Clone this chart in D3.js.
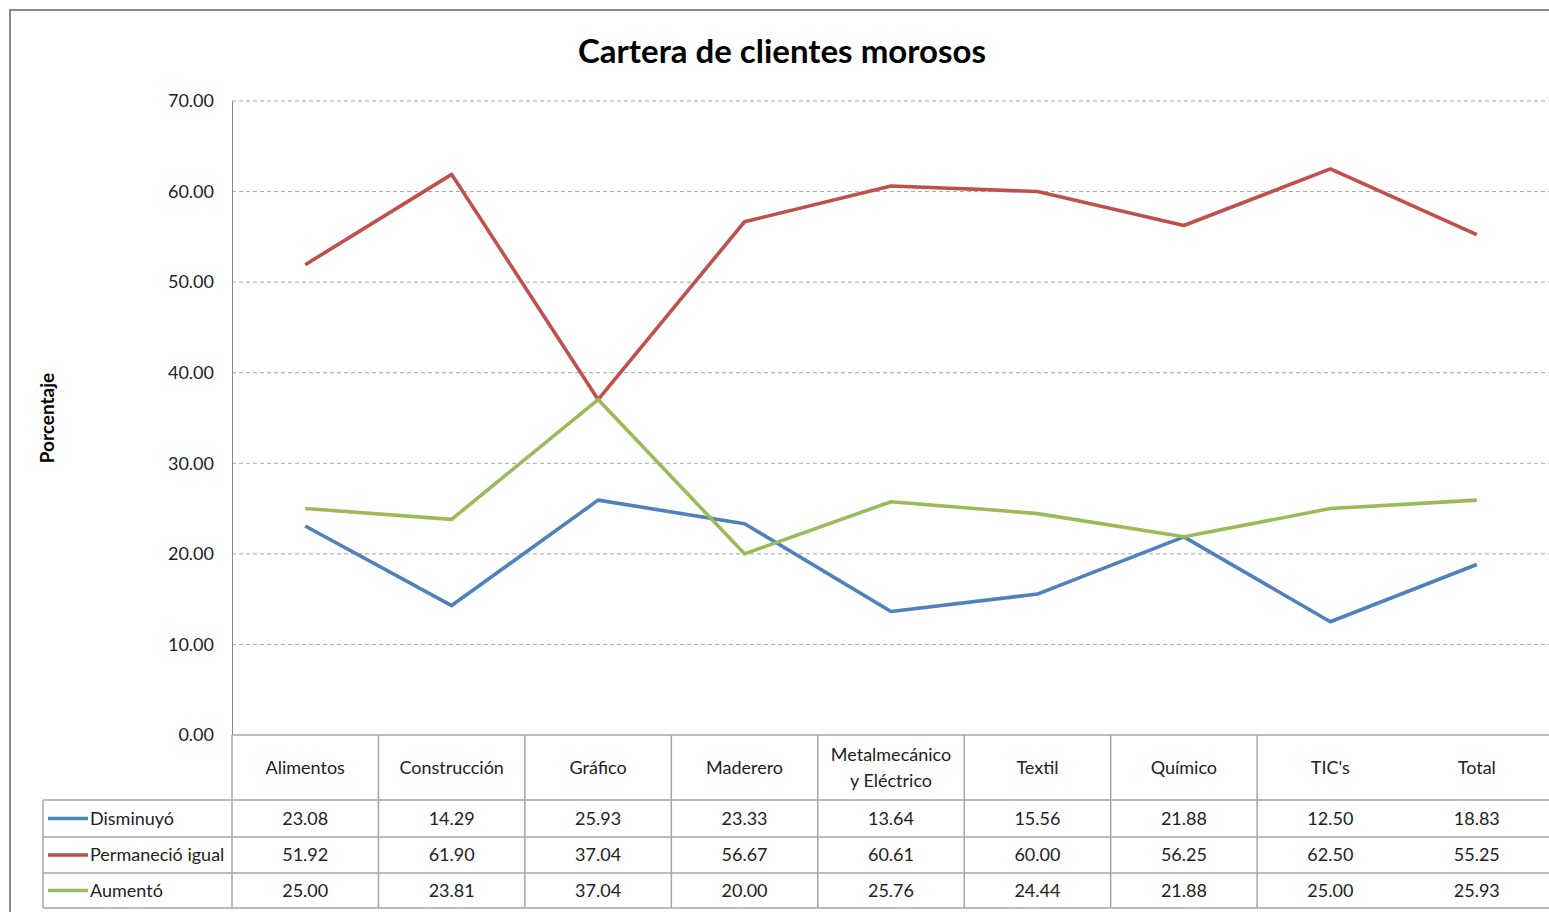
<!DOCTYPE html>
<html>
<head>
<meta charset="utf-8">
<script src="https://cdn.jsdelivr.net/npm/d3@7"></script>
<style>
  html, body { margin: 0; padding: 0; background: #fff; }
  svg { display: block; font-family: Lato, "Open Sans", sans-serif; }
</style>
</head>
<body>
<div id="chart"></div>
<script>
const categories = [
  "Alimentos", "Construcción", "Gráfico", "Maderero",
  "Metalmecánico\ny Eléctrico", "Textil", "Químico", "TIC's", "Total",
];
const disminuyo = [23.08, 14.29, 25.93, 23.33, 13.64, 15.56, 21.88, 12.5, 18.83];
const permanecio = [51.92, 61.9, 37.04, 56.67, 60.61, 60.0, 56.25, 62.5, 55.25];
const aumento = [25.0, 23.81, 37.04, 20.0, 25.76, 24.44, 21.88, 25.0, 25.93];
const yTicks = [0, 10, 20, 30, 40, 50, 60, 70];

const series = [
  { name: "Disminuyó", values: disminuyo, color: "#4f81bd" },
  { name: "Permaneció igual", values: permanecio, color: "#c0504d" },
  { name: "Aumentó", values: aumento, color: "#9bbb59" },
];

const width = 1549;
const height = 912;
const grid = "#a6a6a6";

const svg = d3.select("#chart").append("svg")
  .attr("width", width)
  .attr("height", height);

// outer chart frame (runs off the right and bottom edge)
svg.append("rect")
  .attr("x", 10).attr("y", 10)
  .attr("width", width + 20).attr("height", height + 20)
  .attr("fill", "none").attr("stroke", "#888").attr("stroke-width", 2);

svg.append("text")
  .attr("x", 782).attr("y", 63)
  .attr("text-anchor", "middle")
  .attr("font-size", 33).attr("font-weight", "bold")
  .text("Cartera de clientes morosos");

const x = d3.scaleBand().domain(categories).range([232, 1550]);
const y = d3.scaleLinear().domain([0, 70]).range([735, 101]);

// gridlines
svg.append("g")
  .selectAll("line")
  .data(yTicks.filter((d) => d > 0))
  .join("line")
  .attr("x1", 232).attr("x2", width)
  .attr("y1", (d) => y(d)).attr("y2", (d) => y(d))
  .attr("stroke", grid).attr("stroke-dasharray", "4,3");

// y axis
const yAxis = svg.append("g")
  .attr("transform", "translate(232,0)")
  .call(d3.axisLeft(y).tickValues(yTicks).tickFormat(d3.format(".2f")).tickSize(0).tickPadding(18));
yAxis.select(".domain").attr("stroke", "#868686");
yAxis.selectAll("text").attr("font-size", 18).attr("fill", "#222").attr("font-family", "Lato, sans-serif");

svg.append("text")
  .attr("transform", "translate(54,418) rotate(-90)")
  .attr("text-anchor", "middle")
  .attr("font-size", 19).attr("font-weight", "bold")
  .text("Porcentaje");

// lines
const line = d3.line()
  .x((d, i) => x(categories[i]) + x.bandwidth() / 2)
  .y((d) => y(d));

svg.append("g")
  .selectAll("path")
  .data(series)
  .join("path")
  .attr("d", (d) => line(d.values))
  .attr("fill", "none")
  .attr("stroke", (d) => d.color)
  .attr("stroke-width", 3.6)
  .attr("stroke-linejoin", "round");

// data table
const rowTops = [800, 837, 873];
const rowH = [37, 36, 35];
const table = svg.append("g").attr("stroke", grid).attr("stroke-width", 1.5);

table.append("line").attr("x1", 232).attr("x2", width).attr("y1", 735).attr("y2", 735);
[800, 837, 873, 908].forEach((ry) => {
  table.append("line").attr("x1", 43).attr("x2", width).attr("y1", ry).attr("y2", ry);
});
table.append("line").attr("x1", 43).attr("x2", 43).attr("y1", 800).attr("y2", 908);
categories.slice(0, -1).forEach((c) => {
  const bx = x(c);
  table.append("line").attr("x1", bx).attr("x2", bx).attr("y1", 735).attr("y2", 908);
});

// header labels
svg.append("g")
  .selectAll("text")
  .data(categories)
  .join("text")
  .attr("x", (d) => x(d) + x.bandwidth() / 2)
  .attr("y", 768)
  .attr("text-anchor", "middle")
  .attr("font-size", 18).attr("fill", "#222")
  .each(function (d) {
    const parts = d.split("\n");
    const t = d3.select(this);
    parts.forEach((p, i) => {
      t.append("tspan")
        .attr("x", x(d) + x.bandwidth() / 2)
        .attr("dy", i === 0 ? (parts.length > 1 ? "-0.38em" : "0.35em") : "1.45em")
        .text(p);
    });
  });

// table rows with legend keys
series.forEach((s, r) => {
  const cy = rowTops[r] + rowH[r] / 2;
  svg.append("line")
    .attr("x1", 48).attr("x2", 88).attr("y1", cy).attr("y2", cy)
    .attr("stroke", s.color).attr("stroke-width", 3.6);
  svg.append("text")
    .attr("x", 90).attr("y", cy).attr("dy", "0.35em")
    .attr("font-size", 18).attr("fill", "#222")
    .text(s.name);
  svg.append("g")
    .selectAll("text")
    .data(s.values)
    .join("text")
    .attr("x", (d, i) => x(categories[i]) + x.bandwidth() / 2)
    .attr("y", cy).attr("dy", "0.35em")
    .attr("text-anchor", "middle")
    .attr("font-size", 18).attr("fill", "#222")
    .text((d) => d3.format(".2f")(d));
});
</script>
</body>
</html>
